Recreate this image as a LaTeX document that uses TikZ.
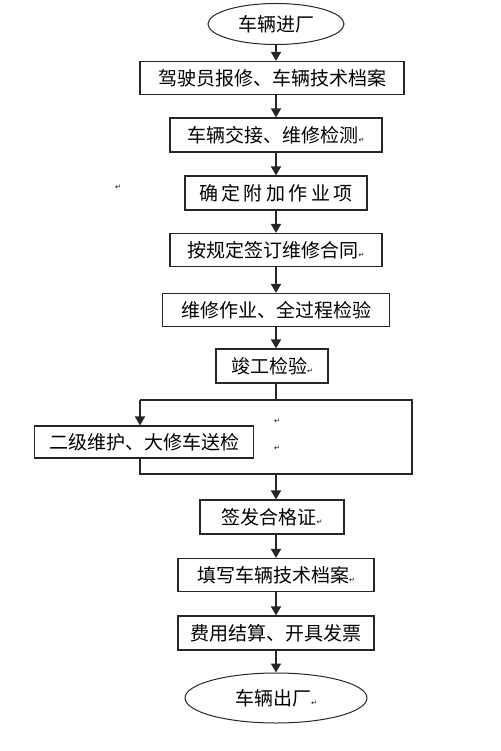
\documentclass[tikz,border=0pt]{standalone}
\usepackage{fontspec}
\usepackage{tikz}
\usetikzlibrary{arrows.meta,shapes.geometric,calc}
\newfontfamily\cjk{Noto Sans CJK SC}
\newfontfamily\dejavu{DejaVu Sans}
\newcommand{\pmark}{{\dejavu\fontsize{7}{7}\selectfont ↵}}

\begin{document}
\begin{tikzpicture}[x=1pt,y=-1pt,
        box/.style={draw=black!85,line width=1.2pt,rectangle,inner sep=0pt,font=\cjk\fontsize{19}{21}\selectfont},
        oval/.style={draw=black!85,line width=1pt,ellipse,inner sep=0pt,font=\cjk\fontsize{19}{21}\selectfont},
        flow/.style={line width=1.8pt,draw=black!85,-{Triangle[width=10pt,length=9pt]}},
        link/.style={line width=1.2pt,draw=black!85}]
        \useasboundingbox (0,0) rectangle (500,751);
        % steps
        \node[oval,minimum width=136pt,minimum height=41pt] (in) at (276,24) {车辆进厂};
        \node[box,minimum width=264pt,minimum height=33pt] (report) at (272,78) {驾驶员报修、车辆技术档案};
        \node[box,minimum width=212pt,minimum height=34pt] (check) at (276,135) {车辆交接、维修检测\pmark};
        \node[box,minimum width=182pt,minimum height=34pt] (extra) at (276,193) {确\hspace{3.5pt}定\hspace{3.5pt}附\hspace{3.5pt}加\hspace{3.5pt}作\hspace{3.5pt}业\hspace{3.5pt}项};
        \node[box,minimum width=212pt,minimum height=33pt] (contract) at (276,250) {按规定签订维修合同\pmark};
        \node[box,minimum width=227pt,minimum height=33pt] (repair) at (276,310) {维修作业、全过程检验};
        \node[box,minimum width=112pt,minimum height=34pt] (final) at (272,366) {竣工检验\pmark};
        \node[box,minimum width=219pt,minimum height=32pt] (send) at (144,442) {二级维护、大修车送检};
        \node[box,minimum width=144pt,minimum height=34pt] (cert) at (272,517) {签发合格证\pmark};
        \node[box,minimum width=196pt,minimum height=33pt] (file) at (276,575) {填写车辆技术档案\pmark};
        \node[box,minimum width=196pt,minimum height=34pt] (bill) at (276,633) {费用结算、开具发票};
        \node[oval,minimum width=182pt,minimum height=50pt] (out) at (276,698) {车辆出厂\pmark};
        % loop round the send-out step
        \coordinate (lt) at (140,400);
        \coordinate (rt) at (412,400);
        \coordinate (lb) at (140,474);
        \coordinate (rb) at (412,474);
        \coordinate (top) at (276,400);
        \coordinate (bot) at (276,474);
        % stray marks
        \node[inner sep=0pt] (m1) at (118,187) {\pmark};
        \node[inner sep=0pt] (m2) at (277,421) {\pmark};
        \node[inner sep=0pt] (m3) at (277,448) {\pmark};
        % arrows
        \draw[flow] (in.south) -- (in.south |- report.north);
        \draw[flow] (in.south |- report.south) -- (check.north);
        \draw[flow] (check.south) -- (extra.north);
        \draw[flow] (extra.south) -- (contract.north);
        \draw[flow] (contract.south) -- (repair.north);
        \draw[flow] (repair.south) -- (in.south |- final.north);
        \draw[link] (in.south |- final.south) -- (top);
        \draw[link] (lt) -- (rt) -- (rb) -- (lb) -- (lb |- send.south);
        \draw[flow] (lt) -- (lt |- send.north);
        \draw[flow] (bot) -- (bot |- cert.north);
        \draw[flow] (bot |- cert.south) -- (file.north);
        \draw[flow] (file.south) -- (bill.north);
        \draw[flow] (bill.south) -- (out.north);
    \end{tikzpicture}
\end{document}
